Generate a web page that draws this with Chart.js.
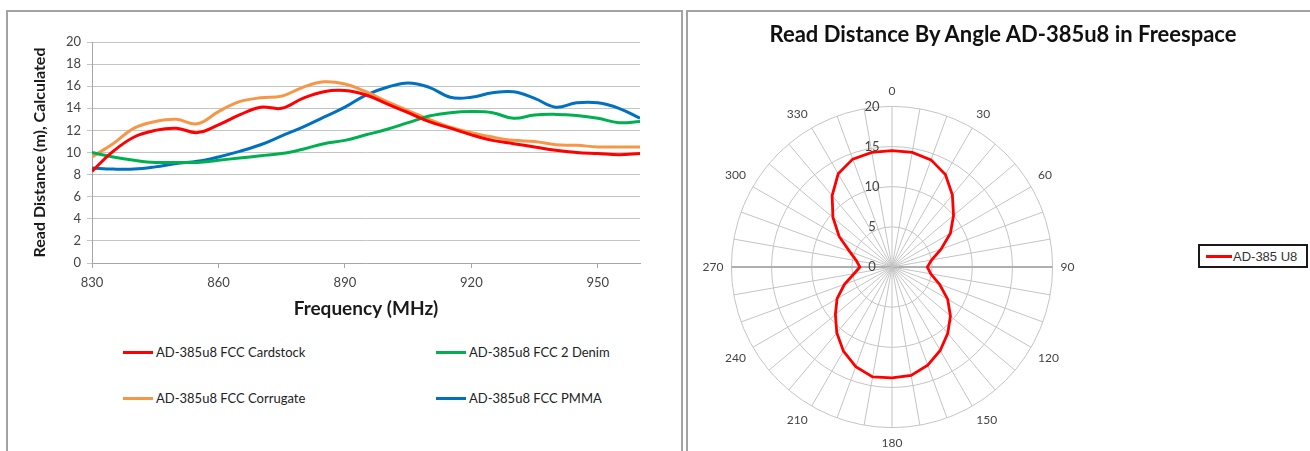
<!DOCTYPE html>
<html>
<head>
<meta charset="utf-8">
<script src="https://cdn.jsdelivr.net/npm/chart.js@4.4.1/dist/chart.umd.min.js"></script>
<style>
  html, body { margin: 0; padding: 0; background: #fff; overflow: hidden; }
  body { width: 1310px; height: 451px; position: relative; font-family: Lato, 'Open Sans', sans-serif; }
  .panel { position: absolute; top: 10px; height: 480px; border: 2px solid #a3a3a3; box-sizing: border-box; }
  .panel--left { left: 6px; width: 677px; }
  .panel--right { left: 686px; width: 660px; }
  canvas { position: absolute; z-index: 2; }
  #lineChart { left: 0; top: 0; }
  #radarChart { left: 689px; top: 84px; }
  .legend { position: absolute; left: 123px; top: 343px; z-index: 3;
    display: grid; grid-template-columns: 313px 240px; grid-auto-rows: 46px; }
  .legend__item { display: flex; align-items: center; height: 18px; font-size: 13px; color: #222; white-space: nowrap; }
  .legend__line { display: inline-block; width: 30px; height: 3px; margin-right: 3px; }
  .radar-title { position: absolute; left: 653px; width: 700px; top: 20px; text-align: center;
    font-size: 22px; font-weight: bold; color: #111; line-height: 28px; z-index: 3; }
  .radar-legend { position: absolute; left: 1198px; top: 244px; width: 110px; height: 24px; box-sizing: border-box;
    border: 2px solid #1a1a1a; display: flex; align-items: center; padding-left: 6px; z-index: 3;
    font-family: 'Liberation Sans', Arial, sans-serif; font-size: 13px; color: #333; white-space: nowrap; }
  .radar-legend .legend__line { width: 26px; margin-right: 1px; }
</style>
</head>
<body>
<div class="panel panel--left"></div>
<div class="panel panel--right"></div>
<canvas id="lineChart" width="682" height="330"></canvas>
<ul class="legend" id="lineLegend" style="margin:0;padding:0;list-style:none"></ul>
<div class="radar-title">Read Distance By Angle AD-385u8 in Freespace</div>
<canvas id="radarChart" width="400" height="366"></canvas>
<div class="radar-legend" id="radarLegend"></div>

<script>
/* ===== Data ===== */
const freqs = [830, 835, 840, 845, 850, 855, 860, 865, 870, 875, 880, 885, 890,
  895, 900, 905, 910, 915, 920, 925, 930, 935, 940, 945, 950, 955, 960];
const freqTicks = [830, 860, 890, 920, 950];

const cardstock = [8.3, 10.1, 11.4, 12.0, 12.2, 11.8, 12.5, 13.4, 14.1, 14.0, 14.9, 15.5, 15.6,
  15.2, 14.4, 13.6, 12.8, 12.2, 11.6, 11.1, 10.8, 10.5, 10.2, 10.0, 9.9, 9.8, 9.9];
const denim = [10.0, 9.6, 9.3, 9.1, 9.1, 9.1, 9.3, 9.5, 9.7, 9.9, 10.3, 10.8, 11.1,
  11.6, 12.1, 12.7, 13.3, 13.6, 13.7, 13.6, 13.1, 13.4, 13.45, 13.35, 13.1, 12.7, 12.8];
const corrugate = [9.6, 10.8, 12.2, 12.8, 13.0, 12.6, 13.7, 14.6, 14.95, 15.1, 15.9, 16.4, 16.2,
  15.5, 14.6, 13.8, 13.0, 12.3, 11.8, 11.4, 11.1, 11.0, 10.7, 10.65, 10.5, 10.5, 10.5];
const pmma = [8.6, 8.5, 8.5, 8.7, 9.0, 9.2, 9.6, 10.1, 10.7, 11.5, 12.3, 13.2, 14.1,
  15.2, 15.9, 16.3, 15.9, 15.0, 15.0, 15.4, 15.5, 14.9, 14.1, 14.5, 14.5, 14.0, 13.1];

const angles = ['0', '10', '20', '30', '40', '50', '60', '70', '80', '90', '100', '110',
  '120', '130', '140', '150', '160', '170', '180', '190', '200', '210', '220', '230',
  '240', '250', '260', '270', '280', '290', '300', '310', '320', '330', '340', '350'];
const readDistance = [14.5, 14.5, 14.2, 13.3, 11.7, 10.0, 8.4, 6.5, 5.0, 4.4, 4.9, 6.3,
  8.0, 9.5, 10.8, 12.0, 13.0, 13.7, 13.8, 13.9, 13.2, 12.1, 10.7, 9.2,
  7.9, 6.3, 4.8, 4.0, 4.5, 5.6, 7.6, 9.6, 11.6, 13.4, 14.3, 14.5];

/* ===== Global Config ===== */
Chart.defaults.font.family = "Lato, 'Open Sans', sans-serif";
Chart.defaults.color = '#444';
Chart.defaults.animation = false;

const gridGray = '#c4c4c4';
const axisGray = '#a6a6a6';

const lineSeries = [
  { label: 'AD-385u8 FCC Cardstock', data: cardstock, color: '#ff0000' },
  { label: 'AD-385u8 FCC 2 Denim', data: denim, color: '#00b050' },
  { label: 'AD-385u8 FCC Corrugate', data: corrugate, color: '#f79646' },
  { label: 'AD-385u8 FCC PMMA', data: pmma, color: '#0070c0' }
];

/* ===== Line Chart ===== */
function initLineChart() {
  const ctx = document.getElementById('lineChart');

  new Chart(ctx, {
    type: 'line',
    data: {
      datasets: lineSeries.map(s => ({
        label: s.label,
        data: freqs.map((f, i) => ({ x: f, y: s.data[i] })),
        borderColor: s.color,
        backgroundColor: s.color,
        borderWidth: 3,
        pointRadius: 0,
        tension: 0.4,
        fill: false
      }))
    },
    options: {
      responsive: false,
      layout: { padding: { left: 30, top: 42, right: 42, bottom: 7 } },
      scales: {
        x: {
          type: 'linear',
          min: 830,
          max: 960,
          afterBuildTicks: (scale) => { scale.ticks = freqTicks.map(v => ({ value: v })); },
          afterFit: (scale) => { scale.height = 60; },
          ticks: { font: { size: 13 }, padding: 7, callback: (v) => String(v) },
          grid: { drawOnChartArea: false, tickLength: 5, color: axisGray },
          border: { color: axisGray },
          title: {
            display: true,
            text: 'Frequency (MHz)',
            color: '#1a1a1a',
            font: { size: 19, weight: 'bold' },
            padding: { top: 0, bottom: 3 }
          }
        },
        y: {
          min: 0,
          max: 20,
          afterFit: (scale) => { scale.width = 62; },
          ticks: { stepSize: 2, font: { size: 13 }, padding: 6 },
          grid: { color: gridGray, tickLength: 5 },
          border: { color: axisGray },
          title: {
            display: true,
            text: 'Read Distance (m), Calculated',
            color: '#1a1a1a',
            font: { size: 16, weight: 'bold' },
            padding: 0
          }
        }
      },
      plugins: {
        legend: { display: false },
        tooltip: { enabled: false }
      }
    }
  });

  const legendEl = document.getElementById('lineLegend');
  legendEl.innerHTML = lineSeries.map(s =>
    `<li class="legend__item"><span class="legend__line" style="background:${s.color}"></span>${s.label}</li>`
  ).join('');
}

/* ===== Radar Chart ===== */
const radarTickLabels = {
  id: 'radarTickLabels',
  afterDraw(chart) {
    const r = chart.scales.r;
    const c = chart.ctx;
    c.save();
    c.font = "13px Lato, 'Open Sans', sans-serif";
    c.fillStyle = '#444';
    c.textAlign = 'center';
    c.textBaseline = 'middle';
    r.ticks.forEach(t => {
      const d = r.getDistanceFromCenterForValue(t.value);
      c.fillText(t.label, r.xCenter - 20, r.yCenter - d);
    });
    c.restore();
  }
};

function initRadarChart() {
  const ctx = document.getElementById('radarChart');
  const seriesName = 'AD-385 U8';
  const seriesColor = '#ff0000';

  new Chart(ctx, {
    type: 'radar',
    data: {
      labels: angles,
      datasets: [{
        label: seriesName,
        data: readDistance,
        borderColor: seriesColor,
        backgroundColor: seriesColor,
        borderWidth: 2.8,
        pointRadius: 0,
        fill: false,
        tension: 0
      }]
    },
    options: {
      responsive: false,
      scales: {
        r: {
          min: 0,
          max: 20,
          ticks: { stepSize: 5, display: false },
          grid: { circular: true, color: gridGray },
          angleLines: {
            color: (c) => (c.index === 9 || c.index === 27) ? '#b0b0b0' : gridGray,
            lineWidth: (c) => (c.index === 9 || c.index === 27) ? 2 : 1
          },
          pointLabels: {
            padding: 8,
            font: { size: 12 },
            color: '#444',
            callback: (label) => Number(label) % 30 === 0 ? label : ''
          }
        }
      },
      plugins: {
        legend: { display: false },
        tooltip: { enabled: false }
      }
    },
    plugins: [radarTickLabels]
  });

  document.getElementById('radarLegend').innerHTML =
    `<span class="legend__line" style="background:${seriesColor}"></span>${seriesName}`;
}

/* ===== Init ===== */
initLineChart();
initRadarChart();
</script>
</body>
</html>
